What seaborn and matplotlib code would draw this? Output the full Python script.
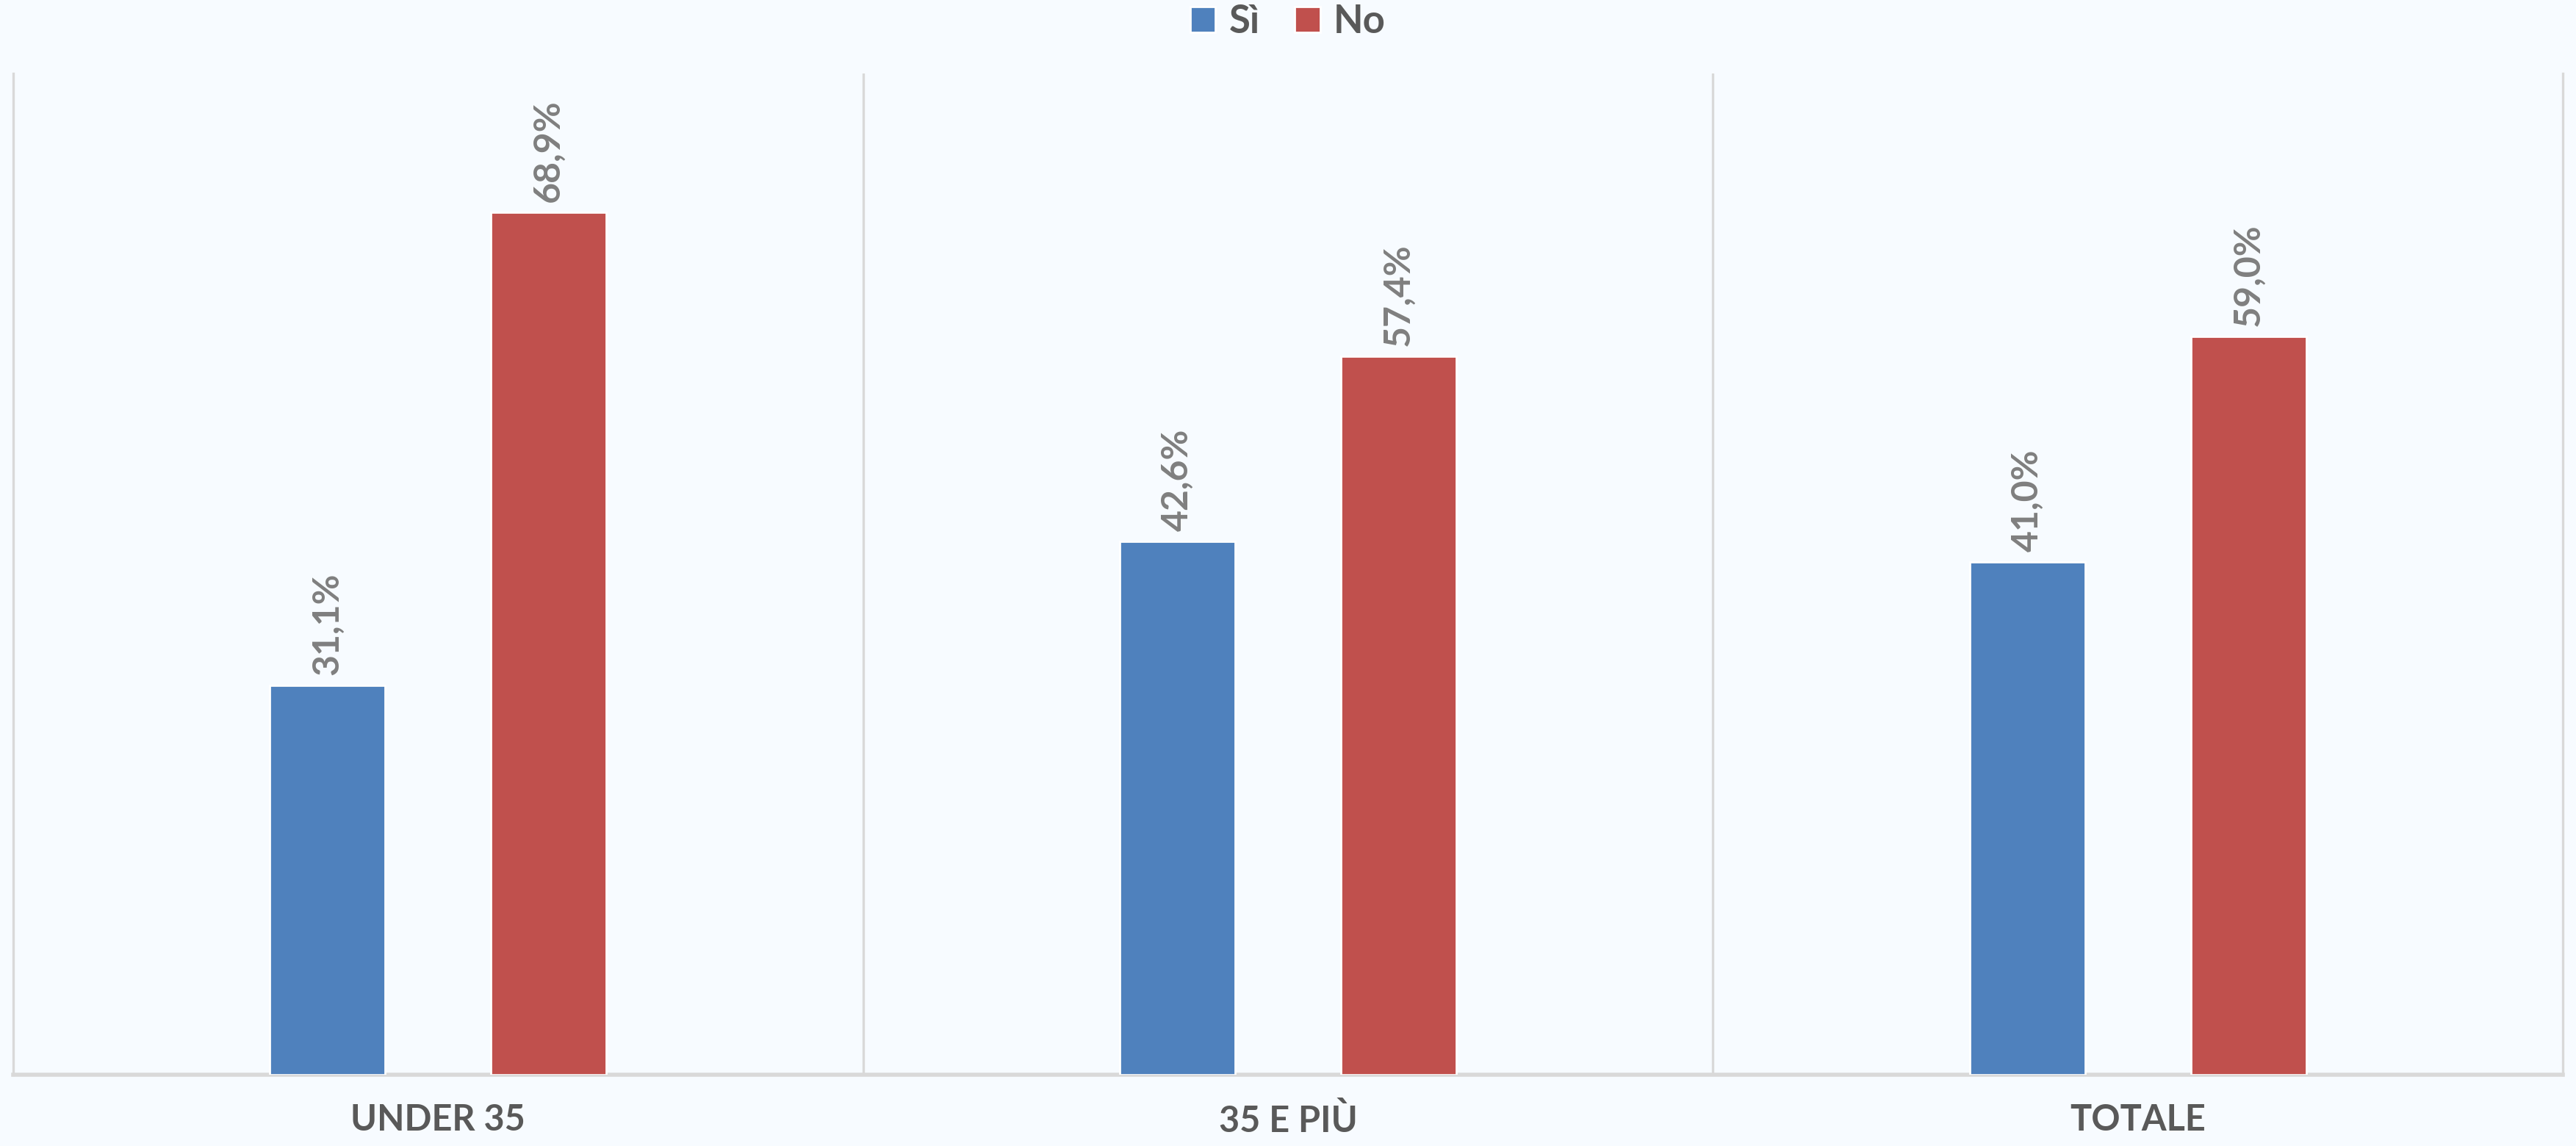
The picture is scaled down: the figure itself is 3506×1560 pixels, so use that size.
import pandas as pd
import numpy as np
import seaborn as sns
import matplotlib.pyplot as plt
import matplotlib

categories = ["UNDER 35", "35 E PIÙ", "TOTALE"]
si_values = [31.1, 42.6, 41.0]
no_values = [68.9, 57.4, 59.0]
series_names = ["Sì", "No"]

BG = "#F7FBFF"
TEXT = "#595959"
GRID = "#D9D9D9"


def build_frame():
    df = pd.DataFrame({
        "Categoria": categories * 2,
        "Risposta": [series_names[0]] * 3 + [series_names[1]] * 3,
        "Valore": si_values + no_values,
    })
    return df


def main():
    sns.set_style("white")
    plt.rcParams['font.family'] = ['Lato', 'DejaVu Sans']

    df = build_frame()

    fig = plt.figure(figsize=(17.53, 7.8), dpi=200, facecolor=BG)
    ax = fig.add_axes([0.005, 0.062, 0.990, 0.874])
    ax.set_facecolor(BG)

    sns.barplot(data=df, x="Categoria", y="Valore", hue="Risposta",
                hue_order=series_names, order=categories,
                palette=["#4F81BD", "#C0504D"], width=0.52, gap=0.48,
                saturation=1, ax=ax, zorder=3)

    # etichette dei valori sopra le barre
    for cont in ax.containers:
        labels = [f"{v:.1f}%".replace(".", ",") for v in cont.datavalues]
        ax.bar_label(cont, labels=labels, rotation=90, padding=5,
                     color="#7F7F7F", fontsize=18, fontweight="bold")

    ax.set_ylim(0, 80)
    ax.set_xlim(-0.5, 2.5)
    ax.set_yticks([])
    ax.set_xlabel("")
    ax.set_ylabel("")

    ax.set_xticks([0.5, 1.5], minor=True)
    ax.grid(which="minor", axis="x", color=GRID, linewidth=1.2, zorder=0)
    ax.tick_params(axis="x", which="both", length=0, pad=14)
    for lab in ax.get_xticklabels():
        lab.set_fontsize(17.5)
        lab.set_fontweight("bold")
        lab.set_color(TEXT)

    for side in ["left", "right"]:
        ax.spines[side].set_color(GRID)
        ax.spines[side].set_linewidth(1.2)
    ax.spines["top"].set_visible(False)
    ax.spines["bottom"].set_color(GRID)
    ax.spines["bottom"].set_linewidth(2)

    leg = ax.legend(loc="center", bbox_to_anchor=(0.5, 0.981), bbox_transform=fig.transFigure,
                    ncol=2, frameon=False, fontsize=19, handlelength=0.65, handleheight=0.65,
                    handletextpad=0.35, columnspacing=0.9, borderaxespad=0)
    for t in leg.get_texts():
        t.set_color(TEXT)
        t.set_fontweight("bold")

    fig.savefig("out.png", dpi=200, facecolor=BG)


if __name__ == "__main__":
    main()
